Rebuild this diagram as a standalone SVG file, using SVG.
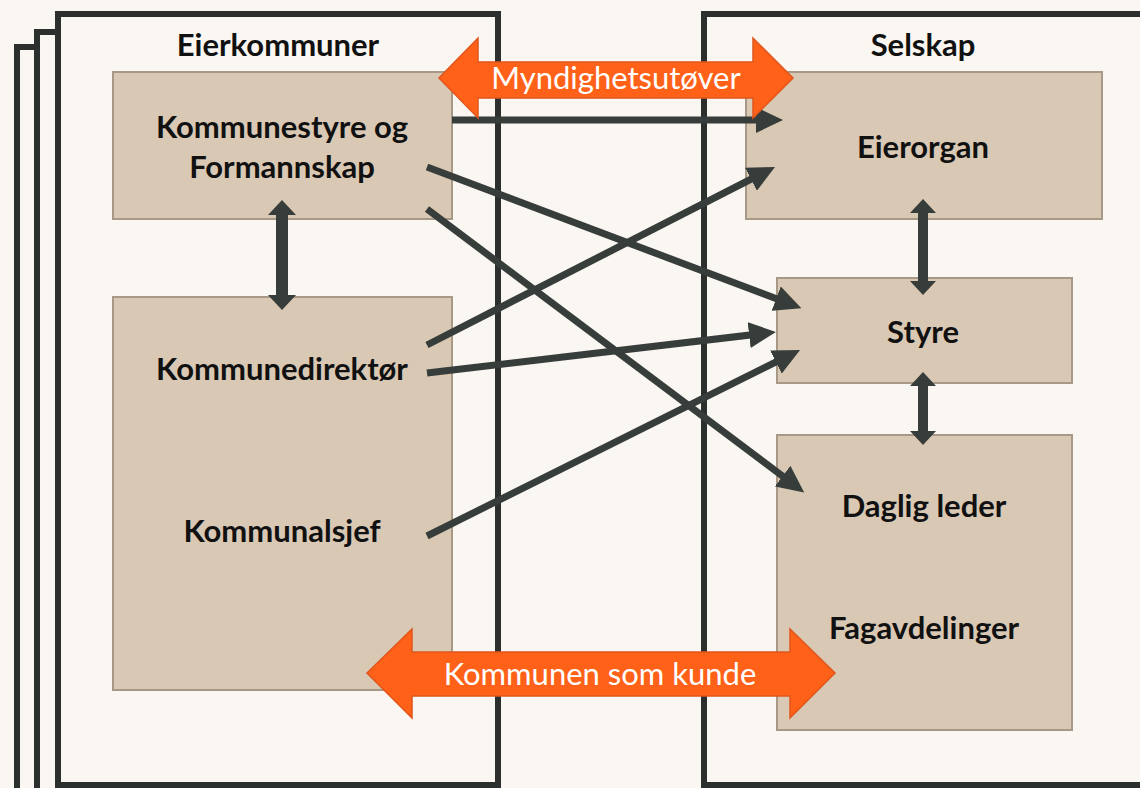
<svg xmlns="http://www.w3.org/2000/svg" width="1140" height="788" viewBox="0 0 1140 788">
<style>
.frame{fill:#FAF6F1;stroke:#2B302E;stroke-width:6}
.box{fill:#D9C8B4;stroke:#A89886;stroke-width:2}
.lbl{font-family:Lato,"Open Sans","Liberation Sans",sans-serif;font-weight:bold;font-size:31px;fill:#111;text-anchor:middle}
.olbl{font-family:Lato,"Open Sans","Liberation Sans",sans-serif;font-size:31px;fill:#fff;text-anchor:middle}
.orange{fill:#FF6118;stroke:#E0551C;stroke-width:1.5}
.con{stroke:#373D3A;stroke-width:7;fill:none;marker-end:url(#ah)}
.dbl{fill:#373D3A}
</style>
<defs>
<marker id="ah" markerUnits="userSpaceOnUse" markerWidth="28" markerHeight="26" refX="18" refY="13" orient="auto">
<path d="M0,0 L27,13 L0,26 z" fill="#373D3A"/>
</marker>
</defs>
<rect x="0" y="0" width="1140" height="788" fill="#FAF6F1"/>
<g id="eierkommuner">
<rect class="frame" x="17" y="47" width="440" height="760"/>
<rect class="frame" x="37" y="32" width="440" height="770"/>
<rect class="frame" x="58" y="14" width="440" height="771"/>
<text class="lbl" x="278" y="56">Eierkommuner</text>
</g>
<g id="selskap">
<rect class="frame" x="704" y="14" width="460" height="771"/>
<text class="lbl" x="923" y="56">Selskap</text>
</g>
<g id="kommunestyre">
<rect class="box" x="113" y="72" width="339" height="147"/>
<text class="lbl" x="282" y="138">Kommunestyre og</text>
<text class="lbl" x="282" y="178">Formannskap</text>
</g>
<g id="kommunedirektor">
<rect class="box" x="113" y="297" width="339" height="393"/>
<text class="lbl" x="282" y="380">Kommunedirektør</text>
<text class="lbl" x="282" y="542">Kommunalsjef</text>
</g>
<g id="eierorgan">
<rect class="box" x="746" y="72" width="356" height="147"/>
<text class="lbl" x="923" y="158">Eierorgan</text>
</g>
<g id="styre">
<rect class="box" x="777" y="278" width="295" height="105"/>
<text class="lbl" x="923" y="343">Styre</text>
</g>
<g id="dagligleder">
<rect class="box" x="777" y="435" width="295" height="295"/>
<text class="lbl" x="924" y="517">Daglig leder</text>
<text class="lbl" x="924" y="639">Fagavdelinger</text>
</g>
<g id="connectors">
<line class="con" x1="452" y1="120" x2="774" y2="120"/>
<line class="con" x1="427" y1="167" x2="793" y2="305"/>
<line class="con" x1="427" y1="209" x2="797" y2="487"/>
<line class="con" x1="427" y1="345" x2="767" y2="171"/>
<line class="con" x1="427" y1="373" x2="767" y2="333"/>
<line class="con" x1="427" y1="536" x2="792" y2="354"/>
<polygon class="dbl" points="282,200 296,215 288,215 288,295 296,295 282,310 268,295 276,295 276,215 268,215"/>
<polygon class="dbl" points="923,199 936,213 928,213 928,281 936,281 923,295 910,281 918,281 918,213 910,213"/>
<polygon class="dbl" points="923,372 936,386 928,386 928,431 936,431 923,445 910,431 918,431 918,386 910,386"/>
</g>
<g id="myndighetsutover">
<polygon class="orange" points="439,78 478,38 478,62 753,62 753,38 793,78 753,118 753,98 478,98 478,118"/>
<text class="olbl" x="616" y="89">Myndighetsutøver</text>
</g>
<g id="kommunensomkunde">
<polygon class="orange" points="367,673 412,629 412,652 790,652 790,629 835,673 790,718 790,696 412,696 412,718"/>
<text class="olbl" x="600" y="685">Kommunen som kunde</text>
</g>
</svg>
